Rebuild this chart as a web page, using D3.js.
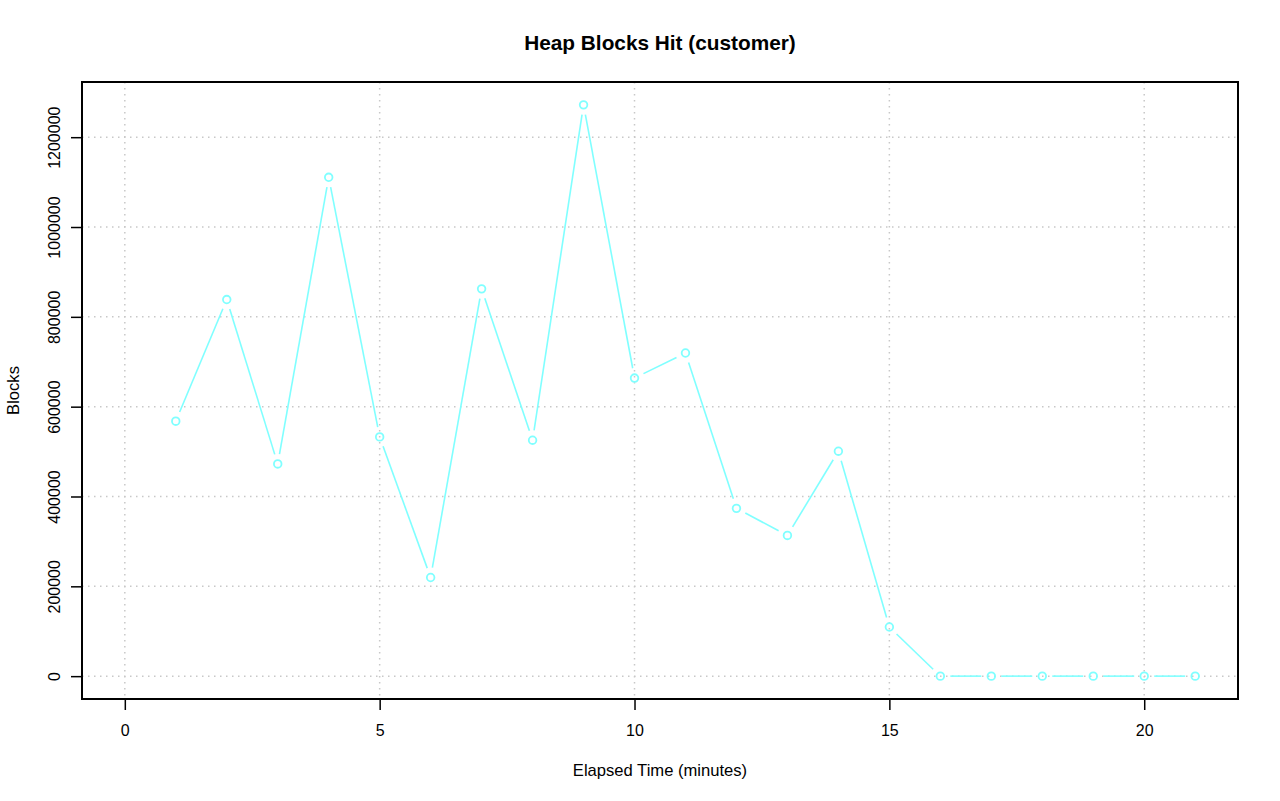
<!DOCTYPE html>
<html>
<head>
<meta charset="utf-8">
<script src="https://cdn.jsdelivr.net/npm/d3@7"></script>
<style>
  body { margin: 0; background: #fff; }
  svg { display: block; font-family: "Liberation Sans", Arial, Helvetica, sans-serif; }
</style>
</head>
<body>
<svg id="chart" width="1280" height="801"></svg>
<script>
// minutes elapsed and heap blocks hit
var minutes = [1, 2, 3, 4, 5, 6, 7, 8, 9, 10, 11, 12, 13, 14, 15, 16, 17, 18, 19, 20, 21];
var blocks = [567700, 838500, 472500, 1110700, 532700, 219600, 862300, 525300, 1272000, 663700,
  719500, 373600, 313300, 500800, 109400, 0, 0, 0, 0, 0, 0];
var xTicks = [0, 5, 10, 15, 20];
var yTicks = [0, 200000, 400000, 600000, 800000, 1000000, 1200000];

var svg = d3.select("#chart");
// note: "top" is taken by window.top, so use plot* names
var plotL = 82, plotR = 1238, plotT = 82, plotB = 699;
var lineColor = "#80ffff";

// R style range: 4% padding on both ends
function pad(lo, hi) {
  var d = (hi - lo) * 0.04;
  return [lo - d, hi + d];
}

var x = d3.scaleLinear().domain(pad(0, d3.max(minutes))).range([plotL, plotR]);
var y = d3.scaleLinear().domain(pad(0, d3.max(blocks))).range([plotB, plotT]);

// grid
var grid = svg.append("g")
  .attr("stroke", "#c8c8c8")
  .attr("stroke-width", 1.5)
  .attr("stroke-dasharray", "1.5,4.5");
grid.selectAll(".vx").data(xTicks).enter().append("line")
  .attr("x1", d => x(d)).attr("x2", d => x(d))
  .attr("y1", plotT).attr("y2", plotB);
grid.selectAll(".hy").data(yTicks).enter().append("line")
  .attr("x1", plotL).attr("x2", plotR)
  .attr("y1", d => y(d)).attr("y2", d => y(d));

// type="b": segments stop short of the points
var pts = minutes.map((m, i) => [x(m), y(blocks[i])]);
var gap = 10;
var segs = [];
for (var i = 1; i < pts.length; i++) {
  var a = pts[i - 1], b = pts[i];
  var dx = b[0] - a[0], dy = b[1] - a[1];
  var len = Math.sqrt(dx * dx + dy * dy);
  if (len <= gap * 2) continue;
  var ux = dx / len, uy = dy / len;
  segs.push([a[0] + ux * gap, a[1] + uy * gap, b[0] - ux * gap, b[1] - uy * gap]);
}
svg.append("g").selectAll("line").data(segs).enter().append("line")
  .attr("x1", d => d[0]).attr("y1", d => d[1])
  .attr("x2", d => d[2]).attr("y2", d => d[3])
  .attr("stroke", lineColor)
  .attr("stroke-width", 1.6);

svg.append("g").selectAll("circle").data(pts).enter().append("circle")
  .attr("cx", d => d[0]).attr("cy", d => d[1])
  .attr("r", 3.8)
  .attr("fill", "none")
  .attr("stroke", lineColor)
  .attr("stroke-width", 1.8);

// axes
var xAxis = svg.append("g")
  .attr("transform", "translate(0," + plotB + ")")
  .call(d3.axisBottom(x).tickValues(xTicks).tickSize(11).tickPadding(15).tickFormat(d3.format("d")));
var yAxis = svg.append("g")
  .attr("transform", "translate(" + plotL + ",0)")
  .call(d3.axisLeft(y).tickValues(yTicks).tickSize(11).tickFormat(d3.format("d")));

[xAxis, yAxis].forEach(g => {
  g.select(".domain").remove();
  g.selectAll(".tick line").attr("stroke", "#000").attr("stroke-width", 1.5);
  g.selectAll(".tick text").attr("fill", "#000").style("font-size", "16px")
    .style("font-family", "'Liberation Sans', Arial, sans-serif");
});
xAxis.selectAll(".tick text").attr("dy", "0.68em");
yAxis.selectAll(".tick text")
  .attr("text-anchor", "middle")
  .attr("x", null).attr("dy", null)
  .attr("transform", "translate(-22,0) rotate(-90)");

// box
svg.append("rect")
  .attr("x", plotL).attr("y", plotT)
  .attr("width", plotR - plotL).attr("height", plotB - plotT)
  .attr("fill", "none").attr("stroke", "#000").attr("stroke-width", 2);

// titles
svg.append("text")
  .attr("x", (plotL + plotR) / 2).attr("y", 50)
  .attr("text-anchor", "middle")
  .style("font-size", "20.8px").style("font-weight", "bold")
  .text("Heap Blocks Hit (customer)");
svg.append("text")
  .attr("x", (plotL + plotR) / 2).attr("y", 776)
  .attr("text-anchor", "middle")
  .style("font-size", "16.6px")
  .text("Elapsed Time (minutes)");
svg.append("text")
  .attr("transform", "translate(19," + (plotT + plotB) / 2 + ") rotate(-90)")
  .attr("text-anchor", "middle")
  .style("font-size", "16.6px")
  .text("Blocks");
</script>
</body>
</html>
